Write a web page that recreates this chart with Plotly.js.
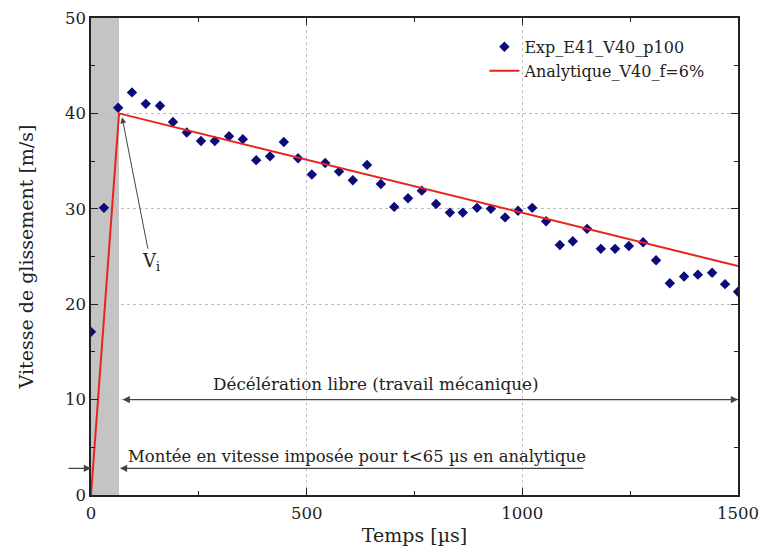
<!DOCTYPE html>
<html>
<head>
<meta charset="utf-8">
<script src="https://cdn.plot.ly/plotly-3.0.1.min.js"></script>
<style>html,body{margin:0;padding:0;background:#fff;}#chart{width:762px;height:552px;}</style>
</head>
<body>
<div id="chart"></div>
<script>
// Experimental data: time [µs] and sliding speed [m/s]
const expTime = [0, 30, 63, 95, 127, 160, 190, 222, 255, 287, 320, 352, 383, 415, 447, 480, 512, 543, 575, 607, 640, 672, 703, 735, 767, 800, 832, 862, 895, 927, 960, 990, 1023, 1055, 1087, 1117, 1150, 1182, 1215, 1247, 1280, 1310, 1342, 1375, 1407, 1440, 1470, 1500];
const expSpeed = [17.1, 30.1, 40.6, 42.2, 41.0, 40.8, 39.1, 38.0, 37.1, 37.1, 37.6, 37.3, 35.1, 35.5, 37.0, 35.3, 33.6, 34.8, 33.9, 33.0, 34.6, 32.6, 30.2, 31.1, 31.9, 30.5, 29.6, 29.6, 30.1, 30.0, 29.1, 29.8, 30.1, 28.7, 26.2, 26.6, 27.9, 25.8, 25.8, 26.1, 26.5, 24.6, 22.2, 22.9, 23.1, 23.3, 22.1, 21.3];
// Analytical model
const anaTime = [0, 65, 1500];
const anaSpeed = [0, 40, 24];
// Ticks
const xTicks = [0, 500, 1000, 1500];
const yTicks = [0, 10, 20, 30, 40, 50];

const FONT = 'DejaVu Serif, Liberation Serif, serif';
const TXT = '#222';

const traces = [
  {x: expTime, y: expSpeed, type: 'scatter', mode: 'markers', name: 'Exp_E41_V40_p100',
   marker: {symbol: 'diamond', size: 8, color: '#0b0b7a'}, cliponaxis: true},
  {x: anaTime, y: anaSpeed, type: 'scatter', mode: 'lines', name: 'Analytique_V40_f=6%',
   line: {color: '#e8231e', width: 2}}
];

const axisCommon = {
  showline: true, linecolor: '#222', linewidth: 1.6, mirror: 'allticks',
  ticks: 'inside', ticklen: 7, tickwidth: 1.2, tickcolor: '#222',
  showgrid: true, gridcolor: '#bdbdbd', griddash: 'dot', gridwidth: 1,
  zeroline: false, tickfont: {family: FONT, size: 16.5, color: TXT}
};

const layout = {
  width: 762, height: 552,
  margin: {l: 91, r: 24, t: 18, b: 57},
  paper_bgcolor: '#fff', plot_bgcolor: '#fff',
  font: {family: FONT, color: TXT},
  showlegend: true,
  legend: {x: 0.608, y: 0.975, xanchor: 'left', yanchor: 'top', bgcolor: 'rgba(0,0,0,0)',
           font: {family: FONT, size: 16, color: TXT}, tracegroupgap: 0},
  xaxis: Object.assign({}, axisCommon, {
    range: [0, 1500], tickvals: xTicks, ticktext: xTicks.map(String),
    ticklabelstandoff: 3,
    minor: {dtick: 250, ticks: 'inside', ticklen: 4, tickcolor: '#222', showgrid: false},
    title: {text: 'Temps [µs]', font: {family: FONT, size: 19, color: TXT}, standoff: 6}
  }),
  yaxis: Object.assign({}, axisCommon, {
    range: [0, 50], tickvals: yTicks, ticktext: yTicks.map(String),
    minor: {dtick: 5, ticks: 'inside', ticklen: 4, tickcolor: '#222', showgrid: false},
    title: {text: 'Vitesse de glissement [m/s]', font: {family: FONT, size: 19, color: TXT}, standoff: 26}
  }),
  shapes: [
    {type: 'rect', xref: 'x', yref: 'paper', x0: 0, x1: 65, y0: 0, y1: 1,
     fillcolor: '#c4c4c4', line: {width: 0}, layer: 'below'}
  ],
  annotations: [
    {x: 72, y: 39.6, xref: 'x', yref: 'y', ax: 138, ay: 24.4, axref: 'x', ayref: 'y',
     text: 'V<sub>i</sub>', showarrow: true, arrowhead: 2, arrowsize: 1.2, arrowwidth: 1,
     arrowcolor: '#444', font: {family: FONT, size: 18, color: TXT}},
    {x: 1500, y: 10, xref: 'x', yref: 'y', ax: 70, ay: 10, axref: 'x', ayref: 'y',
     text: '', showarrow: true, arrowhead: 2, arrowside: 'end+start', arrowsize: 1.2,
     arrowwidth: 1.2, arrowcolor: '#444'},
    {x: 660, y: 11.6, xref: 'x', yref: 'y', text: 'Décélération libre (travail mécanique)',
     showarrow: false, font: {family: FONT, size: 16.8, color: TXT}},
    {x: 67, y: 2.8, xref: 'x', yref: 'y', ax: 1145, ay: 2.8, axref: 'x', ayref: 'y',
     text: '', showarrow: true, arrowhead: 2, arrowsize: 1.2, arrowwidth: 1.2, arrowcolor: '#444'},
    {x: 0, y: 2.8, xref: 'x', yref: 'y', ax: -24, ay: 0,
     text: '', showarrow: true, arrowhead: 2, arrowsize: 1.2, arrowwidth: 1.2, arrowcolor: '#444'},
    {x: 80, y: 4.0, xref: 'x', yref: 'y', xanchor: 'left',
     text: 'Montée en vitesse imposée pour t<65 µs en analytique',
     showarrow: false, font: {family: FONT, size: 16.4, color: TXT}}
  ]
};

Plotly.newPlot('chart', traces, layout, {displayModeBar: false, staticPlot: true});
</script>
</body>
</html>
